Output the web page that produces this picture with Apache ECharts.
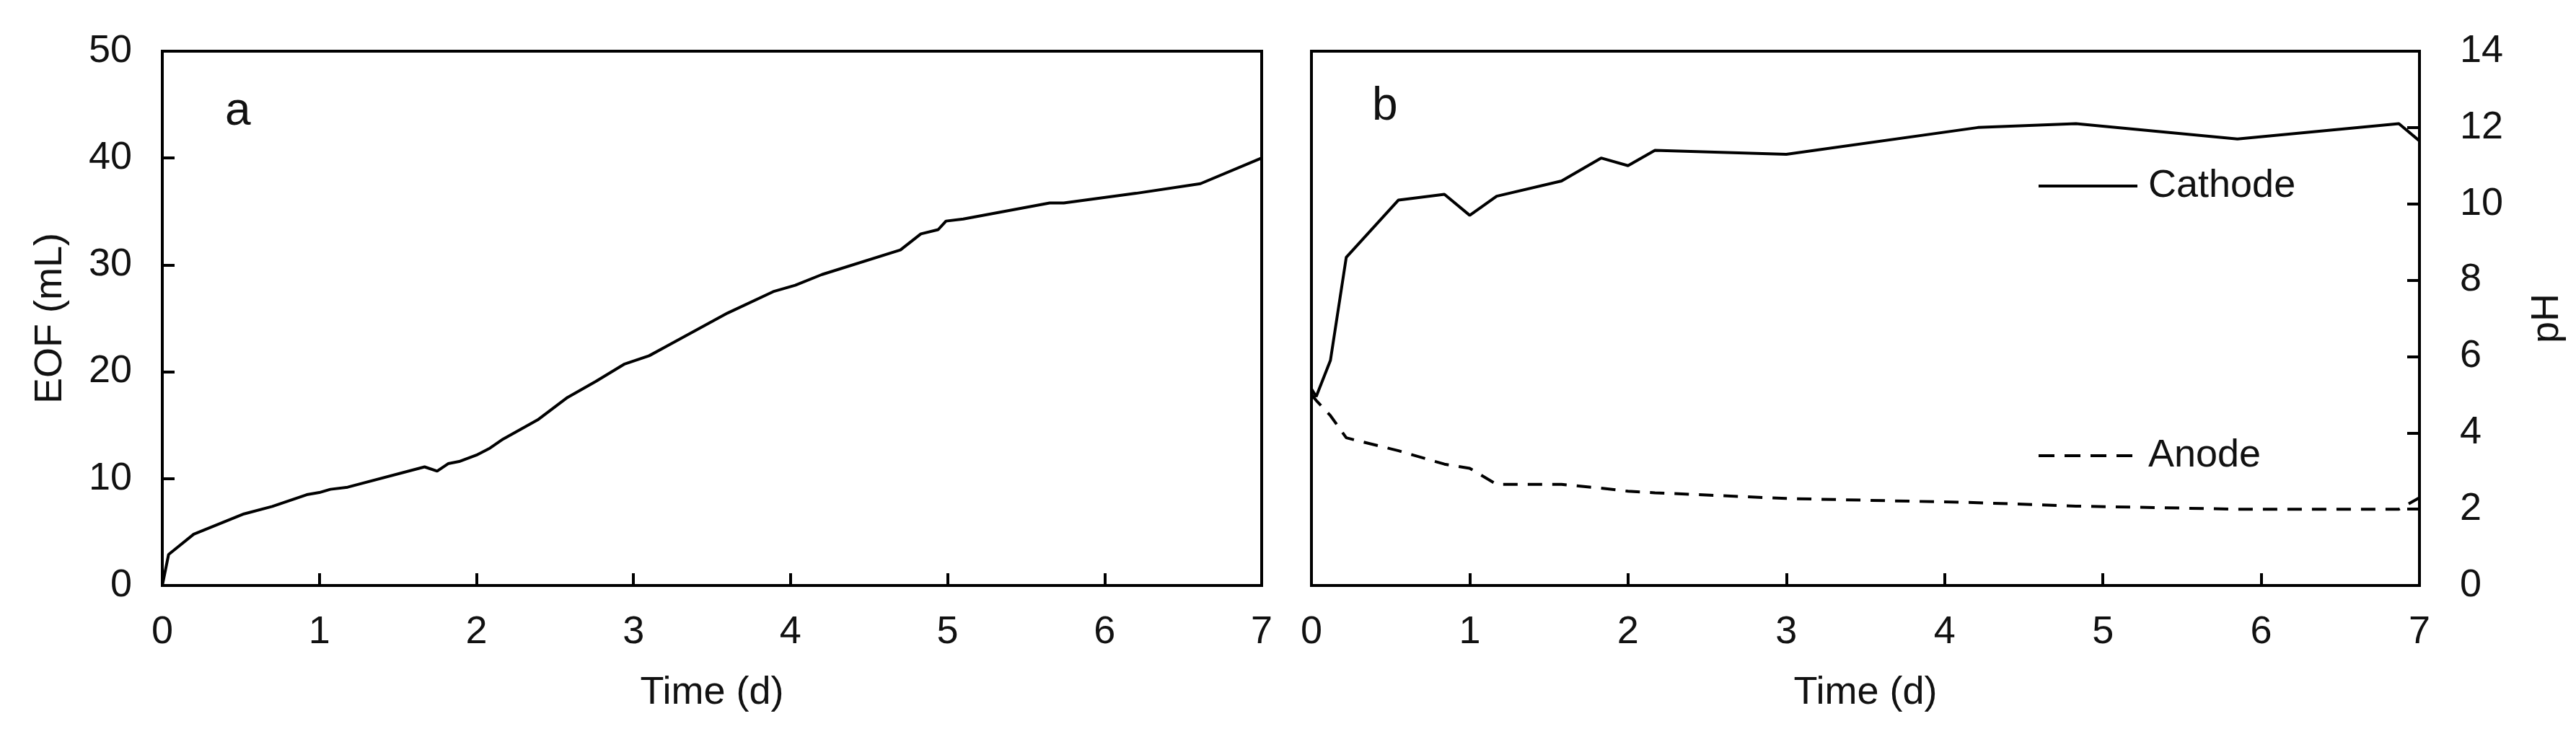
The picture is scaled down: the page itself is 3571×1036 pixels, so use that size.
<!DOCTYPE html>
<html>
<head>
<meta charset="utf-8">
<title>EOF and pH</title>
<script src="https://cdn.jsdelivr.net/npm/echarts@6/dist/echarts.min.js"></script>
<style>
    html, body { margin: 0; padding: 0; background: #fff; }
    #main { width: 3571px; height: 1036px; }
</style>
</head>
<body>
<div id="main"></div>
<script>
// 数据：a 图 电渗流量，b 图 阴阳极 pH
var dayTicks = [0, 1, 2, 3, 4, 5, 6, 7];
var eofDays = [0, 0.04, 0.2, 0.52, 0.7, 0.92, 1.0, 1.07, 1.18, 1.67, 1.75, 1.82, 1.89, 2.0, 2.08, 2.17, 2.39, 2.58, 2.76, 2.94, 3.1, 3.2, 3.6, 3.89, 4.03, 4.2, 4.7, 4.83, 4.94, 4.99, 5.1, 5.65, 5.74, 6.2, 6.61, 7.0];
var eofValues = [0, 2.9, 4.8, 6.7, 7.4, 8.5, 8.7, 9.0, 9.2, 11.1, 10.7, 11.4, 11.6, 12.2, 12.8, 13.7, 15.5, 17.6, 19.1, 20.7, 21.5, 22.3, 25.5, 27.5, 28.1, 29.1, 31.4, 32.9, 33.3, 34.1, 34.3, 35.8, 35.8, 36.7, 37.6, 40.0];
var phDays = [0, 0.03, 0.12, 0.22, 0.55, 0.84, 1.0, 1.17, 1.58, 1.83, 2.0, 2.17, 3.0, 4.21, 4.83, 5.85, 6.87, 7.0];
var cathodePH = [5.15, 4.95, 5.9, 8.6, 10.1, 10.25, 9.7, 10.2, 10.6, 11.2, 11.0, 11.4, 11.3, 12.0, 12.1, 11.7, 12.1, 11.65];
var anodePH = [5.0, 4.85, 4.45, 3.87, 3.53, 3.18, 3.07, 2.65, 2.65, 2.55, 2.47, 2.43, 2.28, 2.17, 2.08, 2.0, 2.0, 2.3];

var FONT = 'Liberation Sans';
var INK = '#111';
var FS = 54;

function pairs(xs, ys) {
    var out = [];
    for (var i = 0; i < xs.length; i++) {
        out.push([xs[i], ys[i]]);
    }
    return out;
}

// 公共的坐标轴样式
function axisBase(extra) {
    var base = {
        type: 'value',
        axisLine: { show: true, onZero: false, lineStyle: { color: '#000', width: 4 } },
        axisTick: { show: true, inside: true, length: 17, lineStyle: { color: '#000', width: 4 } },
        splitLine: { show: false },
        nameTextStyle: { fontFamily: FONT, fontSize: FS, color: INK }
    };
    for (var k in extra) {
        base[k] = extra[k];
    }
    return base;
}

function tickLabel(margin) {
    return { fontFamily: FONT, fontSize: FS, color: INK, margin: margin };
}

var myChart = echarts.init(document.getElementById('main'), null, { renderer: 'canvas' });

var option = {
    animation: false,
    backgroundColor: '#fff',
    grid: [
        { left: 225, width: 1524, top: 71, height: 741, show: true, borderColor: '#000', borderWidth: 4, backgroundColor: 'transparent' },
        { left: 1818, width: 1536, top: 71, height: 741, show: true, borderColor: '#000', borderWidth: 4, backgroundColor: 'transparent' }
    ],
    xAxis: [
        axisBase({
            gridIndex: 0, min: 0, max: 7, interval: 1,
            name: 'Time (d)', nameLocation: 'middle', nameGap: 122,
            axisLabel: tickLabel(38)
        }),
        axisBase({
            gridIndex: 1, min: 0, max: 7, interval: 1,
            name: 'Time (d)', nameLocation: 'middle', nameGap: 122,
            axisLabel: tickLabel(38)
        })
    ],
    yAxis: [
        axisBase({
            gridIndex: 0, min: 0, max: 50, interval: 10,
            name: 'EOF (mL)', nameLocation: 'middle', nameGap: 128,
            axisLabel: tickLabel(42)
        }),
        axisBase({
            gridIndex: 1, min: 0, max: 14, interval: 2, position: 'right',
            name: 'pH', nameLocation: 'middle', nameGap: 150, nameRotate: 90,
            axisLabel: tickLabel(56)
        })
    ],
    legend: [
        {
            data: [{ name: 'Cathode', icon: 'path://M0,0H137V4H0Z' }],
            left: 2821, top: 226, orient: 'vertical',
            itemWidth: 137, itemHeight: 4,
            textStyle: { fontFamily: FONT, fontSize: FS, color: INK, padding: [0, 0, 0, 10] }
        },
        {
            data: [{ name: 'Anode', icon: 'path://M0,0H22V4H0Z M36,0H58V4H36Z M72,0H94V4H72Z M108,0H130V4H108Z' }],
            left: 2821, top: 600, orient: 'vertical',
            itemWidth: 130, itemHeight: 4,
            textStyle: { fontFamily: FONT, fontSize: FS, color: INK, padding: [0, 0, 0, 17] }
        }
    ],
    series: [
        {
            name: 'EOF', type: 'line', xAxisIndex: 0, yAxisIndex: 0,
            data: pairs(eofDays, eofValues),
            symbol: 'none', showSymbol: false,
            lineStyle: { color: '#000', width: 4 }
        },
        {
            name: 'Cathode', type: 'line', xAxisIndex: 1, yAxisIndex: 1,
            data: pairs(phDays, cathodePH),
            symbol: 'none', showSymbol: false,
            itemStyle: { color: '#000' },
            lineStyle: { color: '#000', width: 4 }
        },
        {
            name: 'Anode', type: 'line', xAxisIndex: 1, yAxisIndex: 1,
            data: pairs(phDays, anodePH),
            symbol: 'none', showSymbol: false,
            itemStyle: { color: '#000' },
            lineStyle: { color: '#000', width: 4, type: [20, 14] }
        }
    ],
    graphic: [
        { type: 'text', left: 312, top: 123, style: { text: 'a', fontFamily: FONT, fontSize: 64, fill: INK } },
        { type: 'text', left: 1902, top: 116, style: { text: 'b', fontFamily: FONT, fontSize: 64, fill: INK } }
    ]
};

myChart.setOption(option);
</script>
</body>
</html>
